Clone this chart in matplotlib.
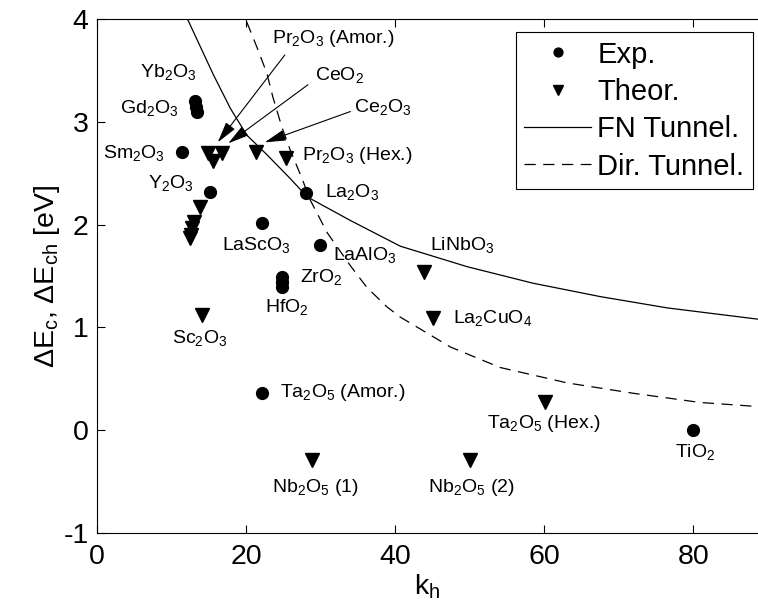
import matplotlib
matplotlib.use("Agg")
import matplotlib.pyplot as plt

plt.rcParams['font.family'] = ['Liberation Sans', 'DejaVu Sans']
plt.rcParams['mathtext.fontset'] = 'custom'
plt.rcParams['mathtext.rm'] = 'Liberation Sans'
plt.rcParams['mathtext.it'] = 'Liberation Sans:italic'
plt.rcParams['mathtext.default'] = 'regular'
plt.rcParams['axes.unicode_minus'] = False

# measured oxides (k_h, band offset in eV)
exp_k = [13.2, 13.3, 13.4, 11.4, 15.2, 28.1, 22.1, 29.9, 24.8, 24.8, 24.8, 22.1, 80.0]
exp_e = [3.20, 3.14, 3.10, 2.71, 2.32, 2.31, 2.02, 1.80, 1.49, 1.44, 1.39, 0.36, 0.00]

# calculated oxides
theo_k = [14.9, 15.6, 16.8, 21.3, 25.4, 13.8, 13.0, 12.8, 12.6, 12.5,
          14.1, 43.9, 45.1, 60.1, 28.9, 50.1]
theo_e = [2.70, 2.62, 2.70, 2.71, 2.65, 2.17, 2.03, 1.97, 1.90, 1.87,
          1.12, 1.54, 1.09, 0.27, -0.29, -0.29]

# Fowler-Nordheim tunnelling limit
fn_k = [12.2, 15.6, 17.9, 20.1, 22.8, 25.9, 28.2, 34.0, 40.7, 49.7, 58.5, 67.5, 76.5, 88.7]
fn_e = [3.99, 3.46, 3.13, 2.87, 2.68, 2.45, 2.27, 2.04, 1.79, 1.59, 1.43, 1.30, 1.19, 1.08]

# direct tunnelling limit
dt_k = [20.1, 21.6, 22.8, 23.6, 24.8, 25.9, 27.5, 28.6, 30.9, 34.0, 36.2, 38.9,
        40.7, 45.1, 47.4, 54.1, 63.1, 71.9, 80.9, 88.7]
dt_e = [3.97, 3.70, 3.47, 3.24, 2.95, 2.73, 2.45, 2.24, 1.92, 1.60, 1.39, 1.20,
        1.10, 0.91, 0.81, 0.61, 0.46, 0.36, 0.27, 0.23]

names = ['Pr$_2$O$_3$ (Amor.)', 'CeO$_2$', 'Ce$_2$O$_3$', 'Pr$_2$O$_3$ (Hex.)',
         'La$_2$O$_3$', 'LiNbO$_3$', 'LaAlO$_3$', 'ZrO$_2$', 'HfO$_2$', 'LaScO$_3$',
         'La$_2$CuO$_4$', 'Ta$_2$O$_5$ (Amor.)', 'Ta$_2$O$_5$ (Hex.)', 'TiO$_2$',
         'Nb$_2$O$_5$ (1)', 'Nb$_2$O$_5$ (2)', 'Sc$_2$O$_3$', 'Y$_2$O$_3$',
         'Sm$_2$O$_3$', 'Gd$_2$O$_3$', 'Yb$_2$O$_3$']
name_xy = [(23.5, 3.77), (29.3, 3.41), (34.5, 3.10), (27.5, 2.63), (30.6, 2.27),
           (44.7, 1.75), (31.7, 1.66), (27.2, 1.44), (22.6, 1.15), (16.8, 1.75),
           (47.8, 1.04), (24.6, 0.32), (52.3, 0.02), (77.6, -0.26), (23.5, -0.60),
           (44.4, -0.60), (10.1, 0.85), (6.8, 2.36), (0.8, 2.65), (3.1, 3.09),
           (5.8, 3.44)]

# (tail, head) of the arrows pointing into the crowded cluster
arrows = [((25.2, 3.65), (16.2, 2.80)),
          ((28.3, 3.36), (17.6, 2.79)),
          ((34.0, 3.10), (22.5, 2.80))]

fig = plt.figure(figsize=(7.58, 6.13), dpi=100)
ax = fig.add_axes([0.128, 0.1305, 0.872, 0.8385])

ax.plot(exp_k, exp_e, 'o', color='k', ms=8.5, label='Exp.')
ax.plot(theo_k, theo_e, 'v', color='k', ms=9.5, label='Theor.')
ax.plot(fn_k, fn_e, '-', color='k', lw=0.9, label='FN Tunnel.')
ax.plot(dt_k, dt_e, color='k', lw=0.9, linestyle=(0, (9, 6)), label='Dir. Tunnel.')

for s, (x, y) in zip(names, name_xy):
    ax.text(x, y, s, fontsize=14, ha='left', va='baseline')

for tail, head in arrows:
    ax.annotate('', xy=head, xytext=tail,
                arrowprops=dict(arrowstyle='-|>,head_length=0.65,head_width=0.17',
                                color='k', lw=0.8, mutation_scale=20,
                                shrinkA=0, shrinkB=0))

ax.set_xlim(0, 88.7)
ax.set_ylim(-1, 4)
ax.set_xticks([0, 20, 40, 60, 80])
ax.set_yticks([-1, 0, 1, 2, 3, 4])
ax.tick_params(direction='in', top=True, right=False, length=6, width=0.8,
               labelsize=20.5)
ax.tick_params(axis='x', pad=8)
ax.tick_params(axis='y', pad=6)
ax.spines['right'].set_visible(False)
for sp in ['left', 'bottom', 'top']:
    ax.spines[sp].set_linewidth(0.8)

ax.set_xlabel('k$_h$', fontsize=20.5, labelpad=2)
ax.set_ylabel('ΔE$_c$, ΔE$_{ch}$ [eV]', fontsize=20.5, labelpad=1)

leg = ax.legend(loc='upper right', bbox_to_anchor=(0.9934, 0.948),
                bbox_transform=fig.transFigure, borderaxespad=0,
                fontsize=21, fancybox=False, edgecolor='k', framealpha=1,
                handlelength=2.3, handletextpad=0.2, labelspacing=0.32,
                markerscale=0.75, borderpad=0.3)
leg.get_frame().set_linewidth(0.8)

fig.savefig('out.png', dpi=100)
